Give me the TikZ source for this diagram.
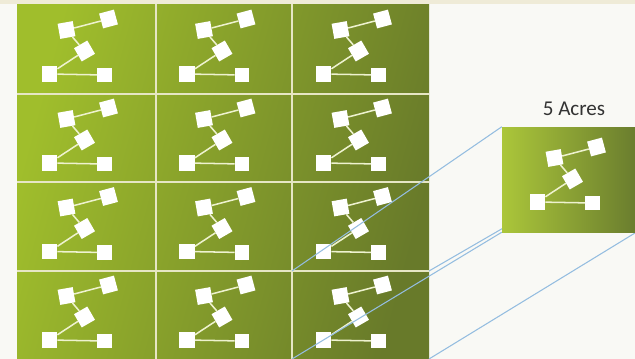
\documentclass[tikz,border=0pt]{standalone}
\usepackage{fontspec}
\setmainfont{Carlito}
\definecolor{bgc}{HTML}{F9F9F5}
\definecolor{topc}{HTML}{EFEBD7}
\definecolor{glight}{HTML}{A0BE2C}
\definecolor{gdark}{HTML}{687A2A}
\definecolor{zlight}{HTML}{ABC63A}
\definecolor{zdark}{HTML}{6A7D2E}
\definecolor{sepc}{HTML}{E6E6C4}
\definecolor{edgec}{HTML}{EEF2CF}
\definecolor{bluec}{HTML}{94BDE0}
\definecolor{txtc}{HTML}{333333}
\pgfdeclarelayer{front}
\pgfsetlayers{main,front}
\tikzset{
  sq/.style={fill=white, minimum size=0.46cm, inner sep=0pt, draw=none},
  edge/.style={draw=edgec, line width=1.3pt},
  sepline/.style={draw=sepc, line width=1.3pt},
  zoomline/.style={draw=bluec, line width=0.9pt},
  netgraph/.pic={
    \node[sq, rotate=15] (-a) at (22,-30) {};
    \node[sq, rotate=10] (-b) at (-20,-19) {};
    \node[sq, rotate=30] (-c) at (-2,2) {};
    \node[sq] (-d) at (-37,25) {};
    \node[sq, minimum size=0.43cm] (-e) at (18,26) {};
    \draw[edge] (-b) -- (-a);
    \draw[edge] (-b) -- (-c);
    \draw[edge] (-c) -- (-d);
    \draw[edge] (-d) -- (-e);
  }
}
\begin{document}
\begin{tikzpicture}[x=0.03cm, y=-0.03cm]
\useasboundingbox (0,0) rectangle (635,359);
\fill[bgc] (0,0) rectangle (635,359);
\fill[topc] (0,0) rectangle (635,4);
% grid field
\shade[left color=glight, right color=gdark, shading angle=75] (17,4) rectangle (429,359);
\foreach \xx in {156,292} \draw[sepline] (\xx,4) -- (\xx,359);
\foreach \yy in {94,182,271} \draw[sepline] (17,\yy) -- (429,\yy);
% graphs in tiles
\foreach \r/\cy in {1/49, 2/138, 3/226.5, 4/315} {
  \foreach \c/\cx in {1/86.5, 2/224, 3/360.5} {
    \pic (g\r\c) at (\cx,\cy) {netgraph};
  }
}
% corners of the magnified tile
\coordinate (c43nw) at (292,271);
\coordinate (c43ne) at (429,271);
\coordinate (c43sw) at (292,359);
\coordinate (c43se) at (429,359);
\coordinate (hid) at (600,172);
% magnified tile
\begin{pgfonlayer}{front}
\node[left color=zlight, right color=zdark, minimum width=4.02cm, minimum height=3.15cm, inner sep=0pt, draw=none] (zb) at (569,179.5) {};
\pic (gz) at (574.5,177) {netgraph};
\node[text=txtc, font=\fontsize{18}{20}\selectfont, anchor=base] (lbl) at (574,115) {5 Acres};
\end{pgfonlayer}
% zoom lines
\draw[zoomline] (zb.north west) -- (c43nw);
\draw[zoomline] (hid) -- (c43ne);
\draw[zoomline] (zb.south west) -- (c43sw);
\draw[zoomline] (zb.south east) -- (c43se);
\end{tikzpicture}
\end{document}
